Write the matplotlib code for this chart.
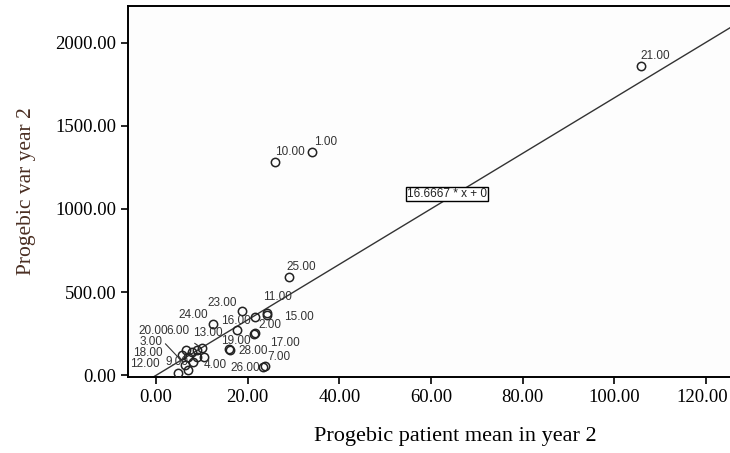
import matplotlib
matplotlib.use("Agg")
import matplotlib.pyplot as plt
import matplotlib.transforms as mtransforms
import numpy as np

# case label, patient mean (year 2), variance (year 2)
cases = [1, 2, 3, 4, 5, 6, 7, 8, 9, 10, 11, 12, 13, 14,
         15, 16, 17, 18, 19, 20, 21, 22, 23, 24, 25, 26, 27, 28]
mean_y2 = [34.0, 21.4, 6.5, 10.4, 8.9, 10.0, 23.4, 7.8, 7.0, 26.0, 24.1, 4.8, 17.7, 7.0,
           24.3, 21.6, 21.6, 5.6, 15.9, 6.4, 105.9, 8.9, 18.7, 12.5, 29.1, 23.7, 8.1, 16.2]
var_y2 = [1344, 246, 152, 112, 152, 162, 50, 142, 32, 1282, 376, 14, 272, 112,
          365, 352, 256, 122, 156, 62, 1859, 112, 388, 306, 589, 56, 82, 149]

slope = 16.6667
fit_text = "16.6667 * x + 0"

# where each case label sits, in pixels from its point (missing = hidden by overlap)
label_offsets = {
    1: (2, 10), 2: (4, 9), 3: (-46, 8), 4: (0, -8), 6: (-36, 17), 7: (4, 10),
    9: (-23, 8), 10: (0, 10), 11: (-3, 16), 12: (-48, 9), 13: (-44, -3),
    15: (17, -2), 16: (-34, -4), 17: (15, -10), 18: (-49, 2), 19: (-8, 8),
    20: (-47, 34), 21: (-1, 10), 23: (-34, 8), 24: (-35, 9), 25: (-3, 10),
    26: (-34, -2), 28: (8, -1),
}
leader_cases = [20, 6]

fig = plt.figure(figsize=(7.30, 4.53), dpi=100)
ax = fig.add_axes([0.1753, 0.1678, 0.83, 0.819])
ax.set_facecolor("#fdfdfd")

xlim = (-6.15, 126.15)
ylim = (-10.2, 2219.5)
ax.set_xlim(xlim)
ax.set_ylim(ylim)

# regression line through the origin
xs = np.array([ylim[0] / slope, xlim[1]])
ax.plot(xs, slope * xs, color="#333333", lw=1.0, zorder=2)

ax.plot(mean_y2, var_y2, "o", ms=6, mfc="none", mec="#222222", mew=1.1, zorder=3)

for c, mx, vy in zip(cases, mean_y2, var_y2):
    if c not in label_offsets:
        continue
    dx, dy = label_offsets[c]
    arrow = None
    if c in leader_cases:
        arrow = dict(arrowstyle="-", color="#333333", lw=0.8, shrinkA=4, shrinkB=3)
    ax.annotate("%.2f" % c, (mx, vy), xytext=(dx, dy), textcoords="offset pixels",
                ha="left", va="center", fontsize=8.5, color="#333333",
                family="Liberation Sans", arrowprops=arrow, zorder=4)

ax.text(63.5, 1090, fit_text, ha="center", va="center", fontsize=8.5,
        family="Liberation Sans", color="#222222", zorder=5,
        bbox=dict(boxstyle="square,pad=0.12", fc="white", ec="black", lw=1.0))

ax.set_xticks(np.arange(0, 121, 20))
ax.set_yticks(np.arange(0, 2001, 500))
ax.set_xticklabels(["%.2f" % v for v in np.arange(0, 121, 20)])
ax.set_yticklabels(["%.2f" % v for v in np.arange(0, 2001, 500)])
ax.tick_params(direction="out", length=5, width=1.2, labelsize=13.5, colors="black")
for lab in ax.get_xticklabels() + ax.get_yticklabels():
    lab.set_family("Liberation Serif")

# last x label sits right at the figure edge, nudge it in a little
last = ax.get_xticklabels()[-1]
last.set_transform(last.get_transform() +
                   mtransforms.ScaledTranslation(-3 / 100, 0, fig.dpi_scale_trans))

ax.spines["right"].set_visible(False)
for s in ["left", "top", "bottom"]:
    ax.spines[s].set_linewidth(1.4)

ax.set_xlabel("Progebic patient mean in year 2", family="Liberation Serif",
              fontsize=16)
ax.xaxis.set_label_coords(0.54, -0.135)
ax.set_ylabel("Progebic var year 2", family="Liberation Serif", fontsize=15.5,
              color="#4a2e22", labelpad=14)

fig.savefig("out.png", dpi=100, facecolor="white")
